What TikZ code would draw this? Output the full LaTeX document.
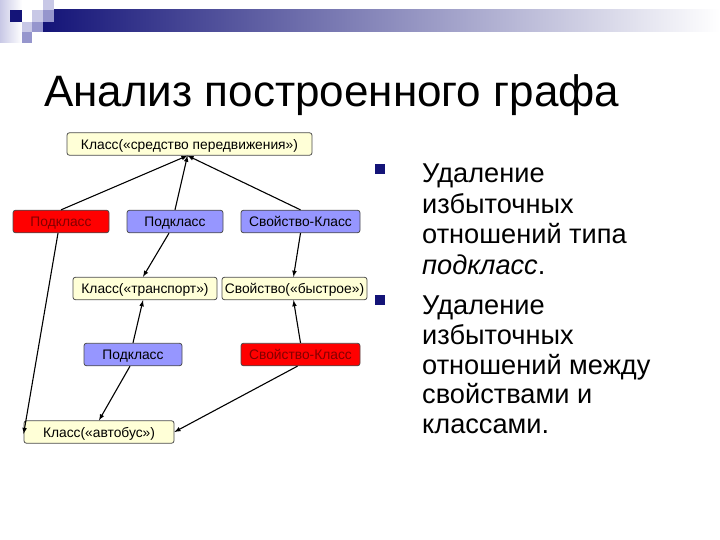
\documentclass[tikz,border=0pt]{standalone}
\usepackage{fontspec}
\setmainfont{Liberation Sans}
\definecolor{navy}{RGB}{20,20,120}
\definecolor{lilac}{RGB}{200,200,230}
\definecolor{lilacdark}{RGB}{150,150,205}
\definecolor{cream}{RGB}{255,255,215}
\definecolor{periwinkle}{RGB}{150,150,255}
\definecolor{darkred}{RGB}{130,0,0}

\begin{document}
\begin{tikzpicture}[x=1pt,y=-1pt,
  box/.style={draw=black!70,rounded corners=2.5pt,line width=0.8pt,inner sep=0pt,
    minimum height=22.5pt,text height=10.5pt,text depth=0pt,font=\fontsize{13.8}{15}\selectfont},
  cls/.style={box,fill=cream},
  sub/.style={box,fill=periwinkle},
  bad/.style={box,fill=red,text=darkred},
  rel/.style={line width=1.1pt,-latex}]
\useasboundingbox (0,0) rectangle (720,540);

% header
\shade [left color=lilac,right color=white] (0,0) rectangle (22,43);
\shade [left color=navy,middle color={rgb,255:red,175;green,175;blue,195},right color=white] (43,10) rectangle (720,32);
\fill [navy] (10,10) rectangle (22,22);
\fill [lilac] (32,10) rectangle (43,22);
\fill [lilac] (43,0) rectangle (54,10);
\fill [lilacdark] (43,10) rectangle (54,22);
\fill [lilac] (22,22) rectangle (32,32);
\fill [lilacdark] (32,22) rectangle (43,32);
\fill [lilacdark] (22,32) rectangle (32,43);

\node [anchor=base west,inner sep=0pt,font=\fontsize{44}{50}\selectfont] (title) at (44,107) {Анализ построенного графа};

% graph
\node [cls,minimum width=245pt] (vehicle) at (189.5,144) {Класс(«средство передвижения»)};
\node [bad,minimum width=96pt] (sub1) at (61,221.5) {Подкласс};
\node [sub,minimum width=96pt] (sub2) at (175,221.5) {Подкласс};
\node [sub,minimum width=119pt] (prop1) at (300.5,221.5) {Свойство-Класс};
\node [cls,minimum width=144pt] (transport) at (145,288.5) {Класс(«транспорт»)};
\node [cls,minimum width=145pt] (fast) at (294.5,288.5) {Свойство(«быстрое»)};
\node [sub,minimum width=98pt] (sub3) at (133,354.5) {Подкласс};
\node [bad,minimum width=119pt] (prop2) at (300.5,354.5) {Свойство-Класс};
\node [cls,minimum width=150pt] (bus) at (99,432) {Класс(«автобус»)};

\draw [rel] (sub1.north) to ([xshift=-2pt]vehicle.south);
\draw [rel] (sub2.north) to ([xshift=-2pt]vehicle.south);
\draw [rel] (prop1.north) to ([xshift=-2pt]vehicle.south);
\draw [rel] ([xshift=-3pt]sub1.south) to ([yshift=-2pt]bus.west);
\draw [rel] ([xshift=-6pt]sub2.south) to ([xshift=-2pt]transport.north);
\draw [rel] (prop1.south) to ([xshift=-1pt]fast.north);
\draw [rel] (sub3.north) to ([xshift=-2pt]transport.south);
\draw [rel] ([xshift=-3pt]sub3.south) to (bus.north);
\draw [rel] (prop2.north) to ([xshift=-1pt]fast.south);
\draw [rel] ([xshift=-3pt]prop2.south) to (bus.east);

% bullets
\fill [navy] (375,164) rectangle (385,174);
\fill [navy] (375,295) rectangle (385,305);
\node [anchor=north west,inner sep=0pt,align=left,font=\fontsize{27.2}{30.5}\selectfont] (first) at (422,164)
  {Удаление\\избыточных\\отношений типа\\\textit{подкласс}.};
\node [anchor=north west,inner sep=0pt,align=left,font=\fontsize{27.2}{29.8}\selectfont] (second) at (422,295.5)
  {Удаление\\избыточных\\отношений между\\свойствами и\\классами.};

\end{tikzpicture}
\end{document}
